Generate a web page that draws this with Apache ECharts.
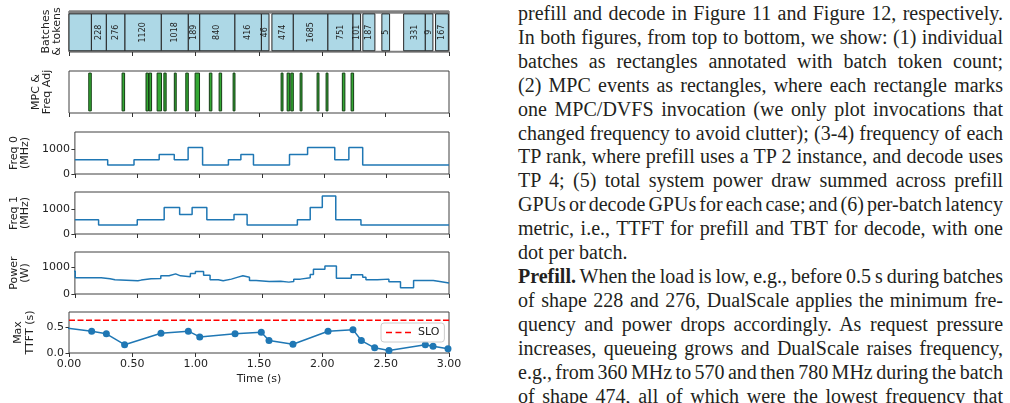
<!DOCTYPE html>
<html>
<head>
<meta charset="utf-8">
<script src="https://cdn.jsdelivr.net/npm/echarts@6/dist/echarts.min.js"></script>
<style>
  body { margin: 0; background: #fff; }
  #page { position: relative; width: 1010px; height: 403px; overflow: hidden; background: #fff; }
  #chart { position: absolute; left: 0; top: 0; width: 470px; height: 403px; }
  #text {
    position: absolute; left: 518px; top: 2px; width: 485px;
    font-family: 'Liberation Serif', 'DejaVu Serif', serif;
    font-size: 20px; line-height: 23.9px; color: #231f20;
  }
  #text div { white-space: nowrap; }
</style>
</head>
<body>
<div id="page">
  <div id="chart"></div>
  <div id="text">
    <div><span>prefill and decode in Figure 11 and Figure 12, respectively.</span></div>
    <div><span>In both figures, from top to bottom, we show: (1) individual</span></div>
    <div><span>batches as rectangles annotated with batch token count;</span></div>
    <div><span>(2) MPC events as rectangles, where each rectangle marks</span></div>
    <div><span>one MPC/DVFS invocation (we only plot invocations that</span></div>
    <div><span>changed frequency to avoid clutter); (3-4) frequency of each</span></div>
    <div><span>TP rank, where prefill uses a TP 2 instance, and decode uses</span></div>
    <div><span>TP 4; (5) total system power draw summed across prefill</span></div>
    <div><span>GPUs or decode GPUs for each case; and (6) per-batch latency</span></div>
    <div><span>metric, i.e., TTFT for prefill and TBT for decode, with one</span></div>
    <div class="last"><span>dot per batch.</span></div>
    <div><span><b>Prefill.</b> When the load is low, e.g., before 0.5 s during batches</span></div>
    <div><span>of shape 228 and 276, DualScale applies the minimum fre-</span></div>
    <div><span>quency and power drops accordingly. As request pressure</span></div>
    <div><span>increases, queueing grows and DualScale raises frequency,</span></div>
    <div><span>e.g., from 360 MHz to 570 and then 780 MHz during the batch</span></div>
    <div><span>of shape 474, all of which were the lowest frequency that</span></div>
  </div>
</div>
<script>
// batches (s) and token counts
const batchStart = [-0.2, 0.177, 0.295, 0.442, 0.729, 0.942, 1.032, 1.310, 1.519, 1.602, 1.771, 2.044, 2.242, 2.320, 2.470, 2.642, 2.813, 2.894]
const batchEnd = [0.177, 0.295, 0.442, 0.729, 0.942, 1.032, 1.310, 1.519, 1.579, 1.771, 2.044, 2.242, 2.302, 2.415, 2.531, 2.813, 2.873, 2.995]
const batchTokens = [null, 228, 276, 1120, 1018, 189, 840, 416, 46, 474, 1685, 751, 101, 187, 5, 331, 9, 167]

// MPC / DVFS invocations: centre time and duration (s)
const mpcTime = [0.166, 0.429, 0.618, 0.642, 0.713, 0.758, 0.839, 0.932, 1.013, 1.118, 1.195, 1.303, 1.682, 1.732, 1.761, 1.832, 1.966, 2.037, 2.168, 2.237]
const mpcDur = [0.02, 0.02, 0.02, 0.02, 0.035, 0.018, 0.015, 0.02, 0.035, 0.02, 0.02, 0.015, 0.015, 0.02, 0.02, 0.015, 0.015, 0.015, 0.02, 0.02]

// frequency of each TP rank (MHz), value holds from each time until the next
const freq0Time = [0, 0.263, 0.474, 0.676, 0.797, 0.908, 1.024, 1.231, 1.331, 1.432, 1.721, 1.866, 2.084, 2.197, 2.308, 3.0]
const freq0Val = [570, 360, 570, 780, 570, 1065, 360, 570, 780, 360, 780, 1065, 570, 1065, 360, 360]
const freq1Time = [0, 0.190, 0.500, 0.716, 0.840, 0.940, 1.058, 1.276, 1.381, 1.784, 1.887, 1.984, 2.092, 2.294, 3.0]
const freq1Val = [570, 360, 570, 1065, 780, 1065, 570, 780, 360, 570, 1065, 1530, 570, 360, 360]

// total power (W)
const powerTime = [-0.02, 0.003, 0.211, 0.282, 0.321, 0.505, 0.532, 0.611, 0.689, 0.755, 0.808, 0.847, 0.926, 0.966, 1.032, 1.084, 1.150, 1.189, 1.255, 1.308, 1.347, 1.400, 1.453, 1.558, 1.650, 1.716, 1.755, 1.808, 1.887, 1.913, 2.005, 2.097, 2.216, 2.308, 2.334, 2.426, 2.518, 2.611, 2.716, 2.874, 2.926, 3.0]
const powerVal = [850, 605, 568, 530, 494, 519, 568, 580, 679, 753, 679, 642, 765, 840, 704, 530, 494, 556, 630, 679, 630, 506, 469, 481, 444, 469, 556, 605, 728, 926, 1049, 593, 716, 630, 530, 556, 457, 235, 506, 469, 407, 407]

// per-batch max TTFT (s)
const ttftTime = [-0.05, 0.179, 0.295, 0.439, 0.726, 0.942, 1.032, 1.311, 1.518, 1.579, 1.768, 2.045, 2.242, 2.308, 2.413, 2.526, 2.813, 2.874, 2.992]
const ttftVal = [0.49, 0.42, 0.37, 0.16, 0.38, 0.42, 0.31, 0.37, 0.40, 0.24, 0.17, 0.42, 0.45, 0.24, 0.10, 0.05, 0.16, 0.13, 0.08]
const slo = 0.63

const xTicks = [0, 0.5, 1, 1.5, 2, 2.5, 3]
const freqTicks = [0, 1000]
const powerTicks = [0, 1000]
const ttftTicks = [0, 0.5]

const panelNames = ['Batches\n& tokens', 'MPC &\nFreq Adj', 'Freq 0\n(MHz)', 'Freq 1\n(MHz)', 'Power\n(W)', 'Max\nTTFT (s)']
const panelTops = [11, 71, 132, 192, 252, 312]
const panelHeights = [41, 42, 42, 42, 42, 41]
const nameGaps = [6, 16, 43, 43, 43, 33]
const yMax = [1, 1, 1690, 1690, 1570, 0.79]
const yTicks = [null, null, freqTicks, freqTicks, powerTicks, ttftTicks]

const FONT = 'DejaVu Sans'
const BLUE = '#1f77b4'
const pairs = (xs, ys) => xs.map((x, i) => [x, ys[i]])

// justify every text line to the column width (last line of a paragraph stays ragged)
const COLUMN = 485
document.querySelectorAll('#text div').forEach(div => {
  if (div.classList.contains('last')) return
  const span = div.querySelector('span')
  const gaps = (span.textContent.match(/ /g) || []).length
  const w = span.getBoundingClientRect().width
  if (gaps) div.style.wordSpacing = ((COLUMN - w) / gaps).toFixed(2) + 'px'
})

const chart = echarts.init(document.getElementById('chart'))

const grids = panelTops.map((top, i) => ({
  left: 69, top, width: 380, height: panelHeights[i],
  show: true, borderColor: '#404040', borderWidth: 1
}))

const xAxes = panelTops.map((_, i) => ({
  type: 'value', gridIndex: i, min: 0, max: 3, interval: 0.5,
  axisLine: { show: false },
  axisTick: { show: true, length: 4, customValues: xTicks, lineStyle: { color: '#333' } },
  axisLabel: {
    show: i === 5, customValues: xTicks, margin: 6,
    fontFamily: FONT, fontSize: 11, color: '#222',
    formatter: v => v.toFixed(2)
  },
  splitLine: { show: false },
  name: i === 5 ? 'Time (s)' : '',
  nameLocation: 'middle', nameGap: 21,
  nameTextStyle: { fontFamily: FONT, fontSize: 11, color: '#222' }
}))

const yAxes = panelTops.map((_, i) => ({
  type: 'value', gridIndex: i, min: 0, max: yMax[i],
  axisLine: { show: false },
  axisTick: yTicks[i]
    ? { show: true, length: 3.5, customValues: yTicks[i], lineStyle: { color: '#333' } }
    : { show: false },
  axisLabel: yTicks[i]
    ? {
        show: true, customValues: yTicks[i], margin: 5,
        fontFamily: FONT, fontSize: 11, color: '#222',
        formatter: v => (i === 5 ? v.toFixed(1) : String(v))
      }
    : { show: false },
  splitLine: { show: false },
  name: panelNames[i], nameLocation: 'middle', nameRotate: 90, nameGap: nameGaps[i],
  nameTextStyle: { fontFamily: FONT, fontSize: 11, lineHeight: 11.5, color: '#222' }
}))

const clipRect = (params, shape) => echarts.graphic.clipRectByRect(shape, {
  x: params.coordSys.x, y: params.coordSys.y,
  width: params.coordSys.width, height: params.coordSys.height
})

const batchSeries = {
  type: 'custom', xAxisIndex: 0, yAxisIndex: 0,
  data: batchStart.map((s, i) => [s, batchEnd[i], i]),
  renderItem: (params, api) => {
    const i = api.value(2)
    const p0 = api.coord([api.value(0), 0.93])
    const p1 = api.coord([api.value(1), 0.03])
    const shape = clipRect(params, { x: p0[0], y: p0[1], width: p1[0] - p0[0], height: p1[1] - p0[1] })
    if (!shape) return null
    const children = [{
      type: 'rect', shape,
      style: { fill: '#add8e6', stroke: '#262626', lineWidth: 1 }
    }]
    if (batchTokens[i] !== null) {
      children.push({
        type: 'text',
        x: (p0[0] + p1[0]) / 2, y: (p0[1] + p1[1]) / 2,
        rotation: Math.PI / 2,
        style: {
          text: String(batchTokens[i]), fontFamily: FONT, fontSize: 8,
          fill: '#222', align: 'center', verticalAlign: 'middle'
        }
      })
    }
    return { type: 'group', children }
  },
  markArea: {
    silent: true,
    itemStyle: { color: '#7f7f7f' },
    data: [[{ yAxis: 0.93 }, { yAxis: 1 }], [{ yAxis: 0 }, { yAxis: 0.03 }]]
  }
}

const mpcSeries = {
  type: 'custom', xAxisIndex: 1, yAxisIndex: 1,
  data: mpcTime.map((t, i) => [t - mpcDur[i] / 2, t + mpcDur[i] / 2]),
  renderItem: (params, api) => {
    const p0 = api.coord([api.value(0), 0.95])
    const p1 = api.coord([api.value(1), 0.05])
    return {
      type: 'rect',
      shape: { x: p0[0], y: p0[1], width: p1[0] - p0[0], height: p1[1] - p0[1] },
      style: { fill: '#33a833', stroke: '#153d15', lineWidth: 1 }
    }
  }
}

const stepLine = (idx, data) => ({
  type: 'line', xAxisIndex: idx, yAxisIndex: idx, data, step: 'end',
  symbol: 'none', lineStyle: { color: BLUE, width: 1.5 }, clip: true
})

chart.setOption({
  animation: false,
  backgroundColor: '#fff',
  textStyle: { fontFamily: FONT },
  grid: grids,
  xAxis: xAxes,
  yAxis: yAxes,
  legend: {
    data: [{ name: 'SLO', icon: 'path://M0,0h6v1.5h-6zM9.5,0h6v1.5h-6zM19,0h6v1.5h-6z' }],
    left: 381, top: 323,
    padding: [4, 5], itemWidth: 25, itemHeight: 1.5, itemGap: 6,
    backgroundColor: 'rgba(255,255,255,0.85)',
    borderColor: '#cccccc', borderWidth: 1, borderRadius: 3,
    textStyle: { fontFamily: FONT, fontSize: 11, color: '#222', padding: [0, 0, 0, 2] }
  },
  series: [
    batchSeries,
    mpcSeries,
    stepLine(2, pairs(freq0Time, freq0Val)),
    stepLine(3, pairs(freq1Time, freq1Val)),
    stepLine(4, pairs(powerTime, powerVal)),
    {
      name: 'SLO', type: 'line', xAxisIndex: 5, yAxisIndex: 5,
      data: [[0, slo], [3, slo]], symbol: 'none',
      lineStyle: { color: '#ff0000', width: 1.5, type: [6, 2.5] },
      itemStyle: { color: '#ff0000' }
    },
    {
      name: 'Max TTFT', type: 'line', xAxisIndex: 5, yAxisIndex: 5,
      data: pairs(ttftTime, ttftVal),
      symbol: 'circle', symbolSize: 7, showAllSymbol: true, clip: true,
      lineStyle: { color: BLUE, width: 1.5 }, itemStyle: { color: BLUE }
    }
  ]
})

window.addEventListener('resize', () => chart.resize())
</script>
</body>
</html>
